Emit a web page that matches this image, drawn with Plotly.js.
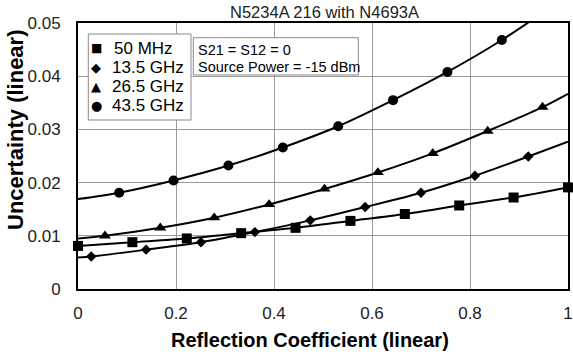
<!DOCTYPE html>
<html>
<head>
<meta charset="utf-8">
<script src="https://cdn.plot.ly/plotly-3.0.1.min.js"></script>
<style>
  html, body { margin: 0; padding: 0; background: #fff; }
  #chart { width: 573px; height: 356px; }
</style>
</head>
<body>
<div id="chart"></div>
<script>
// Measurement uncertainty vs. reflection coefficient, N5234A with N4693A cal kit

// 50 MHz
const mhz50X = [0, 0.111, 0.222, 0.333, 0.444, 0.556, 0.667, 0.778, 0.889, 1.0];
const mhz50Y = [0.0081, 0.0088, 0.0095, 0.0105, 0.0115, 0.0128, 0.0141, 0.0157, 0.0172, 0.0191];

// 13.5 GHz
const ghz135X = [0.027, 0.139, 0.251, 0.361, 0.474, 0.586, 0.700, 0.810, 0.919];
const ghz135Y = [0.0061, 0.0074, 0.0088, 0.0107, 0.0129, 0.0154, 0.0181, 0.0213, 0.0249];
const ghz135Ends = [0.0059, 0.0277];   // curve value at reflection 0 and 1

// 26.5 GHz
const ghz265X = [0.055, 0.168, 0.278, 0.390, 0.503, 0.612, 0.724, 0.836, 0.948];
const ghz265Y = [0.0100, 0.0115, 0.0134, 0.0159, 0.0188, 0.0219, 0.0255, 0.0297, 0.0342];
const ghz265Ends = [0.0095, 0.0367];

// 43.5 GHz
const ghz435X = [0.084, 0.195, 0.307, 0.418, 0.531, 0.643, 0.754, 0.865];
const ghz435Y = [0.0181, 0.0204, 0.0232, 0.0266, 0.0306, 0.0355, 0.0408, 0.0468];
const ghz435Ends = [0.0169, 0.0552];

const seriesNames = ['50 MHz', '13.5 GHz', '26.5 GHz', '43.5 GHz'];
const xTicks = [0, 0.2, 0.4, 0.6, 0.8, 1];
const xTickText = ['0', '0.2', '0.4', '0.6', '0.8', '1'];
const yTicks = [0, 0.01, 0.02, 0.03, 0.04, 0.05];
const yTickText = ['0', '0.01', '0.02', '0.03', '0.04', '0.05'];

// plot-area geometry in pixels, used to place the boxed notes
const L = 78, T = 23, W = 490, H = 266;
const px = v => (v - L) / W;
const py = v => (T + H - v) / H;

const FONT = 'Arial, "Liberation Sans", sans-serif';

function curve(xs, ys, ends) {
  const x = ends ? [0].concat(xs, [1]) : xs;
  const y = ends ? [ends[0]].concat(ys, [ends[1]]) : ys;
  return {
    x: x, y: y, type: 'scatter', mode: 'lines',
    line: { color: '#000', width: 2, shape: 'spline', smoothing: 0.8 },
    hoverinfo: 'skip', showlegend: false
  };
}
function points(xs, ys, symbol, size, name) {
  return {
    x: xs, y: ys, type: 'scatter', mode: 'markers', name: name,
    marker: { symbol: symbol, size: size, color: '#000' },
    cliponaxis: false, showlegend: false
  };
}

const data = [
  curve(mhz50X, mhz50Y, null),
  curve(ghz135X, ghz135Y, ghz135Ends),
  curve(ghz265X, ghz265Y, ghz265Ends),
  curve(ghz435X, ghz435Y, ghz435Ends),
  points(mhz50X, mhz50Y, 'square', 10, seriesNames[0]),
  points(ghz135X, ghz135Y, 'diamond', 8, seriesNames[1]),
  points(ghz265X, ghz265Y, 'triangle-up', 10.5, seriesNames[2]),
  points(ghz435X, ghz435Y, 'circle', 10, seriesNames[3])
];

// key box: symbols and labels
const keySymbols = ['\u25A0', '\u25C6', '\u25B2', '\u25CF'];
const keySymbolSize = [12, 13, 13, 13];
const keyRows = [48.3, 67.3, 86.7, 106];
const keyTextX = [111.5, 110, 110, 110];

const annotations = [];
keyRows.forEach((r, i) => {
  annotations.push({
    xref: 'paper', yref: 'paper', x: px(96), y: py(r),
    xanchor: 'center', yanchor: 'middle', showarrow: false,
    text: keySymbols[i],
    font: { family: '"DejaVu Sans", sans-serif', size: keySymbolSize[i], color: '#000' }
  });
  annotations.push({
    xref: 'paper', yref: 'paper', x: px(keyTextX[i]), y: py(r),
    xanchor: 'left', yanchor: 'middle', showarrow: false,
    text: seriesNames[i],
    font: { family: FONT, size: 17, color: '#000' }
  });
});

// measurement conditions note
annotations.push({
  xref: 'paper', yref: 'paper', x: px(195.5), y: py(50),
  xanchor: 'left', yanchor: 'middle', showarrow: false,
  text: 'S21 = S12 = 0', font: { family: FONT, size: 14.5, color: '#000' }
});
annotations.push({
  xref: 'paper', yref: 'paper', x: px(195.5), y: py(66.7),
  xanchor: 'left', yanchor: 'middle', showarrow: false,
  text: 'Source Power = -15 dBm', font: { family: FONT, size: 14.5, color: '#000' }
});

// axis titles
annotations.push({
  xref: 'paper', yref: 'paper', x: px(15), y: py(130),
  xanchor: 'center', yanchor: 'middle', showarrow: false, textangle: -90,
  text: 'Uncertainty (linear)',
  font: { family: FONT, size: 22, color: '#000', weight: 'bold' }
});
annotations.push({
  xref: 'paper', yref: 'paper', x: px(310), y: py(340),
  xanchor: 'center', yanchor: 'middle', showarrow: false,
  text: 'Reflection Coefficient (linear)',
  font: { family: FONT, size: 20, color: '#000', weight: 'bold' }
});

const shapes = [
  { type: 'rect', xref: 'paper', yref: 'paper',
    x0: px(88.3), x1: px(191), y0: py(120), y1: py(34),
    line: { color: '#8a8a8a', width: 1 }, fillcolor: '#fff', layer: 'above' },
  { type: 'rect', xref: 'paper', yref: 'paper',
    x0: px(193.3), x1: px(358.3), y0: py(75), y1: py(37.7),
    line: { color: '#8a8a8a', width: 1 }, fillcolor: '#fff', layer: 'above' }
];

const layout = {
  width: 573, height: 356,
  margin: { l: L, r: 573 - L - W, t: T, b: 356 - T - H, pad: 0 },
  paper_bgcolor: '#fff', plot_bgcolor: '#fff',
  showlegend: false,
  font: { family: FONT, color: '#222' },
  title: {
    text: 'N5234A 216 with N4693A',
    x: px(324.5), xref: 'paper', xanchor: 'center',
    y: 1 - 12.5 / 356, yanchor: 'middle',
    font: { family: FONT, size: 16.5, color: '#222' }
  },
  xaxis: {
    range: [0, 1], tickvals: xTicks, ticktext: xTickText,
    showgrid: true, gridcolor: '#9a9a9a', gridwidth: 1,
    zeroline: false, showline: true, linecolor: '#000', linewidth: 2, mirror: true,
    ticks: '', ticklabelstandoff: 8,
    tickfont: { family: FONT, size: 17, color: '#222' }
  },
  yaxis: {
    range: [0, 0.05], tickvals: yTicks, ticktext: yTickText,
    showgrid: true, gridcolor: '#9a9a9a', gridwidth: 1,
    zeroline: false, showline: true, linecolor: '#000', linewidth: 2, mirror: true,
    ticks: '', ticklabelstandoff: 12,
    tickfont: { family: FONT, size: 17, color: '#222' }
  },
  annotations: annotations,
  shapes: shapes
};

Plotly.newPlot('chart', data, layout, { staticPlot: true, displayModeBar: false });
</script>
</body>
</html>
